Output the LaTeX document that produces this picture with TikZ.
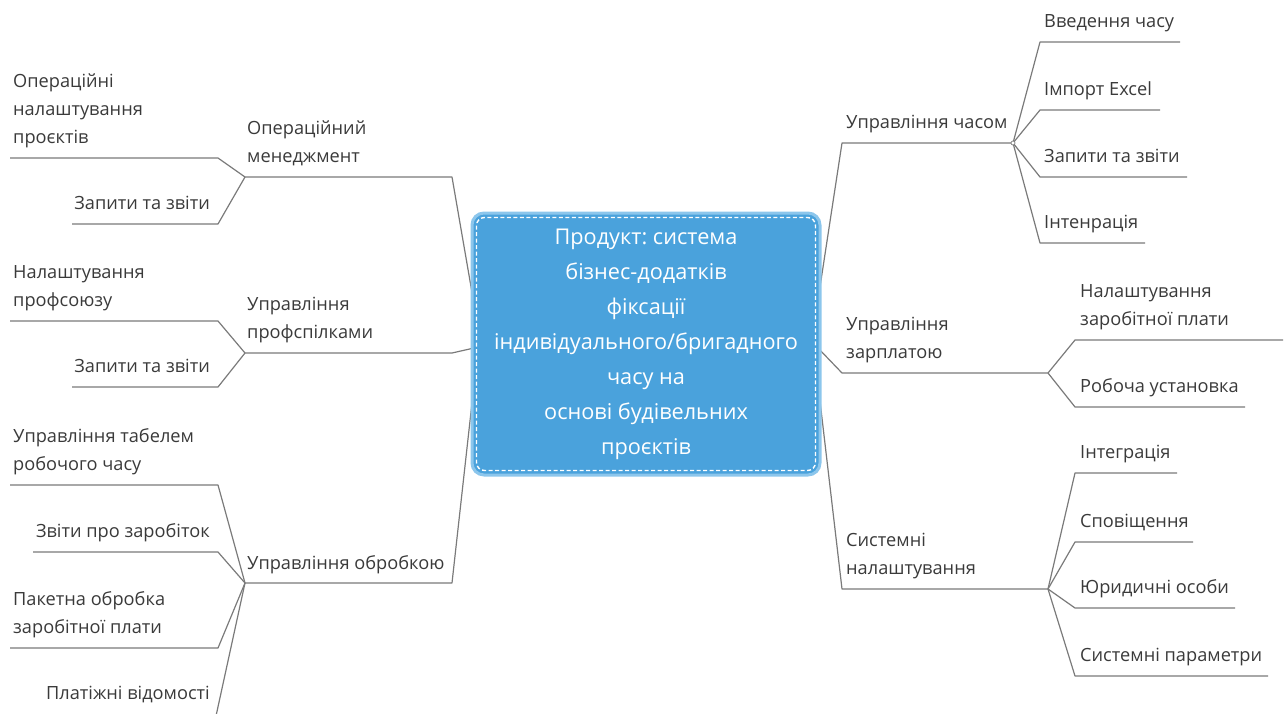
\documentclass[tikz,border=0pt]{standalone}
\usepackage{fontspec}
\setmainfont{Open Sans}
\usetikzlibrary{calc}
\frenchspacing
\definecolor{ink}{HTML}{3A3A3A}
\definecolor{wirec}{HTML}{7A7A7A}
\definecolor{rootfill}{HTML}{4AA2DC}
\definecolor{rootedge}{HTML}{8CC6EC}

\begin{document}
\begin{tikzpicture}[x=1pt,y=-1pt,
  wire/.style={draw=wirec, line width=1.2pt, line join=round},
  lbl/.style={inner sep=0pt, text=ink, font=\fontsize{18.2}{28}\selectfont, text depth=0pt},
  lblL/.style={lbl, align=left, anchor=south west},
  lblR/.style={lbl, align=right, anchor=south east},
  hubdot/.style={circle, draw=wirec, fill=white, inner sep=0pt, minimum size=4pt, line width=0.7pt},
  rootbox/.style={rounded corners=12pt, fill=rootfill, draw=rootedge, line width=3pt,
    minimum width=348pt, minimum height=262pt, text=white, align=center,
    font=\fontsize{21.7}{35}\selectfont}]
\useasboundingbox (0,0) rectangle (1285,713);
\clip (0,0) rectangle (1285,713);

% attachment points on the central topic
\coordinate (rl1) at (474,304);
\coordinate (rl2) at (474,348);
\coordinate (rl3) at (474,385);
\coordinate (rr1) at (818,300);
\coordinate (rr2) at (818,348);
\coordinate (rr3) at (818,384);

% ---------- left: Операційний менеджмент ----------
\coordinate (L1e) at (452,177);
\coordinate (L1h) at (245,177);
\coordinate (L11a) at (218,158); \coordinate (L11b) at (10,158);
\coordinate (L12a) at (218,224); \coordinate (L12b) at (72,224);
\draw[wire] (rl1) -- (L1e) -- (L1h);
\draw[wire] (L1h) -- (L11a) -- (L11b);
\draw[wire] (L1h) -- (L12a) -- (L12b);
\node[lblL] (tL1) at (247,163) {Операційний\\менеджмент};
\node[lblL] (tL11) at (13,144) {Операційні\\налаштування\\проєктів};
\node[lblR] (tL12) at (210,210) {Запити та звіти};

% ---------- left: Управління профспілками ----------
\coordinate (L2e) at (452,353);
\coordinate (L2h) at (245,353);
\coordinate (L21a) at (218,321); \coordinate (L21b) at (10,321);
\coordinate (L22a) at (218,387); \coordinate (L22b) at (72,387);
\draw[wire] (rl2) -- (L2e) -- (L2h);
\draw[wire] (L2h) -- (L21a) -- (L21b);
\draw[wire] (L2h) -- (L22a) -- (L22b);
\node[lblL] (tL2) at (247,339) {Управління\\профспілками};
\node[lblL] (tL21) at (13,307) {Налаштування\\профсоюзу};
\node[lblR] (tL22) at (210,373) {Запити та звіти};

% ---------- left: Управління обробкою ----------
\coordinate (L3e) at (452,583);
\coordinate (L3h) at (245,583);
\coordinate (L31a) at (218,485); \coordinate (L31b) at (10,485);
\coordinate (L32a) at (218,552); \coordinate (L32b) at (33,552);
\coordinate (L33a) at (218,648); \coordinate (L33b) at (10,648);
\coordinate (L34a) at (216,716); \coordinate (L34b) at (60,716);
\draw[wire] (rl3) -- (L3e) -- (L3h);
\draw[wire] (L3h) -- (L31a) -- (L31b);
\draw[wire] (L3h) -- (L32a) -- (L32b);
\draw[wire] (L3h) -- (L33a) -- (L33b);
\draw[wire] (L3h) -- (L34a) -- (L34b);
\node[lblL] (tL3) at (247,570) {Управління обробкою};
\node[lblL] (tL31) at (13,471) {Управління табелем\\робочого часу};
\node[lblR] (tL32) at (210,538) {Звіти про заробіток};
\node[lblL] (tL33) at (13,634) {Пакетна обробка\\заробітної плати};
\node[lblR] (tL34) at (210,700) {Платіжні відомості};

% ---------- right: Управління часом ----------
\coordinate (R1e) at (842,143);
\coordinate (R1h) at (1013,143);
\coordinate (R11a) at (1040,42);  \coordinate (R11b) at (1180,42);
\coordinate (R12a) at (1040,110); \coordinate (R12b) at (1160,110);
\coordinate (R13a) at (1040,177); \coordinate (R13b) at (1187,177);
\coordinate (R14a) at (1040,243); \coordinate (R14b) at (1145,243);
\draw[wire] (rr1) -- (R1e) -- (R1h);
\draw[wire] (R1h) -- (R11a) -- (R11b);
\draw[wire] (R1h) -- (R12a) -- (R12b);
\draw[wire] (R1h) -- (R13a) -- (R13b);
\draw[wire] (R1h) -- (R14a) -- (R14b);
\node[hubdot] (d1) at (R1h) {};
\node[lblL] (tR1) at (846,129) {Управління часом};
\node[lblL] (tR11) at (1044,28) {Введення часу};
\node[lblL] (tR12) at (1044,96) {Імпорт Excel};
\node[lblL] (tR13) at (1044,163) {Запити та звіти};
\node[lblL] (tR14) at (1044,229) {Інтенрація};

% ---------- right: Управління зарплатою ----------
\coordinate (R2e) at (842,373);
\coordinate (R2h) at (1048,373);
\coordinate (R21a) at (1075,340); \coordinate (R21b) at (1283,340);
\coordinate (R22a) at (1075,407); \coordinate (R22b) at (1245,407);
\draw[wire] (rr2) -- (R2e) -- (R2h);
\draw[wire] (R2h) -- (R21a) -- (R21b);
\draw[wire] (R2h) -- (R22a) -- (R22b);
\node[lblL] (tR2) at (846,359) {Управління\\зарплатою};
\node[lblL] (tR21) at (1080,326) {Налаштування\\заробітної плати};
\node[lblL] (tR22) at (1080,393) {Робоча установка};

% ---------- right: Системні налаштування ----------
\coordinate (R3e) at (842,589);
\coordinate (R3h) at (1048,589);
\coordinate (R31a) at (1075,473); \coordinate (R31b) at (1177,473);
\coordinate (R32a) at (1075,542); \coordinate (R32b) at (1193,542);
\coordinate (R33a) at (1075,608); \coordinate (R33b) at (1235,608);
\coordinate (R34a) at (1075,676); \coordinate (R34b) at (1268,676);
\draw[wire] (rr3) -- (R3e) -- (R3h);
\draw[wire] (R3h) -- (R31a) -- (R31b);
\draw[wire] (R3h) -- (R32a) -- (R32b);
\draw[wire] (R3h) -- (R33a) -- (R33b);
\draw[wire] (R3h) -- (R34a) -- (R34b);
\node[lblL] (tR3) at (846,575) {Системні\\налаштування};
\node[lblL] (tR31) at (1080,459) {Інтеграція};
\node[lblL] (tR32) at (1080,528) {Сповіщення};
\node[lblL] (tR33) at (1080,594) {Юридичні особи};
\node[lblL] (tR34) at (1080,662) {Системні параметри};

% ---------- central topic ----------
\node[rootbox] (root) at (646,344) {Продукт: система\\бізнес-додатків\\фіксації\\індивідуального/бригадного\\часу на\\основі будівельних\\проєктів};
\draw[white, line width=1.4pt, dash pattern=on 4pt off 2.5pt, rounded corners=8pt]
  ($(root.north west)+(6,6)$) rectangle ($(root.south east)+(-6,-6)$);
\end{tikzpicture}
\end{document}
